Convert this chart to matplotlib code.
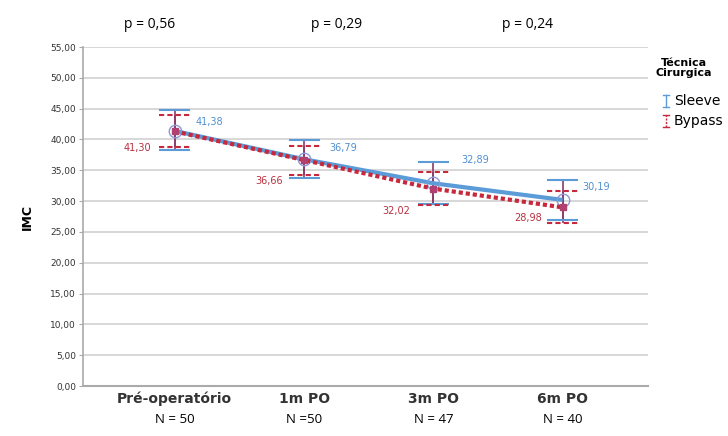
import matplotlib
matplotlib.use("Agg")
import matplotlib.pyplot as plt
from matplotlib.lines import Line2D
import numpy as np

# ---- data ----
categories = ["Pré-operatório", "1m PO", "3m PO", "6m PO"]
n_labels = ["N = 50", "N =50", "N = 47", "N = 40"]
p_labels = ["p = 0,56", "p = 0,29", "p = 0,24"]
sleeve_mean = [41.38, 36.79, 32.89, 30.19]
sleeve_lo = [38.3, 33.8, 29.5, 27.0]
sleeve_hi = [44.7, 39.9, 36.3, 33.4]
bypass_mean = [41.30, 36.66, 32.02, 28.98]
bypass_lo = [38.7, 34.3, 29.4, 26.4]
bypass_hi = [44.0, 39.0, 34.8, 31.6]
yticks = [0, 5, 10, 15, 20, 25, 30, 35, 40, 45, 50, 55]

blue = "#5a9bd8"
red = "#c8283c"
purple = "#8a3a6a"
blue_txt = "#4f8fd0"
red_txt = "#b8303e"

fig = plt.figure(figsize=(7.28, 4.36), dpi=100)
ax = fig.add_axes([83/728, 1-386/436, (648-83)/728, (386-47)/436])

x = np.arange(len(categories))

ax.set_ylim(0, 55)
ax.set_xlim(-0.71, 3.66)
ax.set_yticks(yticks)
ax.set_yticklabels([f"{v:.2f}".replace(".", ",") for v in yticks],
                   fontsize=6.5, color="#333333")
ax.yaxis.grid(True, color="#d4d4d4", linewidth=1.3)
ax.set_axisbelow(True)
for s in ["top", "right"]:
    ax.spines[s].set_visible(False)
ax.spines["left"].set_color("#aaaaaa")
ax.spines["bottom"].set_color("#aaaaaa")
ax.spines["left"].set_linewidth(1.2)
ax.spines["bottom"].set_linewidth(1.5)
ax.tick_params(axis="y", length=3, color="#aaaaaa", pad=2)
ax.tick_params(axis="x", length=0, pad=4)
ax.set_xticks(x)
ax.set_xticklabels(categories, fontsize=10, color="#333333", fontweight="bold")
ax.set_ylabel("IMC", fontsize=9, fontweight="bold", labelpad=12)

sm = np.array(sleeve_mean); bm = np.array(bypass_mean)
s_err = [sm - np.array(sleeve_lo), np.array(sleeve_hi) - sm]
b_err = [bm - np.array(bypass_lo), np.array(bypass_hi) - bm]

capw = 0.12
# error bars: vertical lines
ax.errorbar(x, sm, yerr=s_err, fmt="none", ecolor=purple, elinewidth=1.2, capsize=0, zorder=3)
ax.errorbar(x, bm, yerr=b_err, fmt="none", ecolor=purple, elinewidth=1.2, capsize=0, zorder=3)
# caps
ax.hlines(sleeve_hi, x - capw, x + capw, color=blue, linewidth=1.5, zorder=3)
ax.hlines(sleeve_lo, x - capw, x + capw, color=blue, linewidth=1.5, zorder=3)
ax.hlines(bypass_hi, x - capw, x + capw, color=red, linewidth=1.5, linestyles=(0, (2.5, 1.5)), zorder=4)
ax.hlines(bypass_lo, x - capw, x + capw, color=red, linewidth=1.5, linestyles=(0, (2.5, 1.5)), zorder=4)

# lines
ax.plot(x, sm, color=blue, linewidth=3, solid_capstyle="butt", zorder=5,
        marker="o", markersize=9, markerfacecolor="none", markeredgecolor="#8a9ad8", markeredgewidth=1)
ax.plot(x, bm, color=red, linewidth=3, linestyle=(0, (1, 0.7)), zorder=6,
        marker="s", markersize=5, markerfacecolor="#b04070", markeredgecolor="#b04070")

# value labels
s_off = [(25, 6.5), (28, 8), (30, 17), (24, 9.5)]
b_off = [(-27, -12), (-25, -15), (-27, -16), (-25, -7.5)]
for i in range(len(x)):
    ax.annotate(f"{sleeve_mean[i]:.2f}".replace(".", ","), (x[i], sm[i]),
                xytext=s_off[i], textcoords="offset points", fontsize=7,
                color=blue_txt, ha="center", va="center")
    ax.annotate(f"{bypass_mean[i]:.2f}".replace(".", ","), (x[i], bm[i]),
                xytext=b_off[i], textcoords="offset points", fontsize=7,
                color=red_txt, ha="center", va="center")

# p values and N labels
p_x = [150/728, 337/728, 527/728]
for px, lab in zip(p_x, p_labels):
    fig.text(px, 1 - 24/436, lab, ha="center", va="center", fontsize=10, family="Open Sans")
for xi, lab in zip(x, n_labels):
    ax.annotate(lab, (xi, 0), xycoords=("data", "axes fraction"),
                xytext=(0, -24), textcoords="offset points",
                ha="center", va="center", fontsize=9.5, family="Open Sans")

# legend (manual)
fig.text(684/728, 1 - 68/436, "Técnica\nCirurgica", ha="center", va="center",
         fontsize=8, fontweight="bold", linespacing=1.0)
fig.text(674/728, 1 - 101/436, "Sleeve", ha="left", va="center", fontsize=10)
fig.text(674/728, 1 - 121/436, "Bypass", ha="left", va="center", fontsize=10)
lx = 666/728
for yy, col, ls in [(101, blue, "-"), (121, red, (0, (1.5, 1)))]:
    yc = 1 - yy/436
    h = 6/436
    fig.add_artist(Line2D([lx, lx], [yc - h, yc + h], color=col, lw=1, linestyle=ls, transform=fig.transFigure))
    fig.add_artist(Line2D([lx - 3/728, lx + 3/728], [yc + h, yc + h], color=col, lw=1, transform=fig.transFigure))
    fig.add_artist(Line2D([lx - 3/728, lx + 3/728], [yc - h, yc - h], color=col, lw=1, transform=fig.transFigure))

fig.savefig("out.png", dpi=100)
